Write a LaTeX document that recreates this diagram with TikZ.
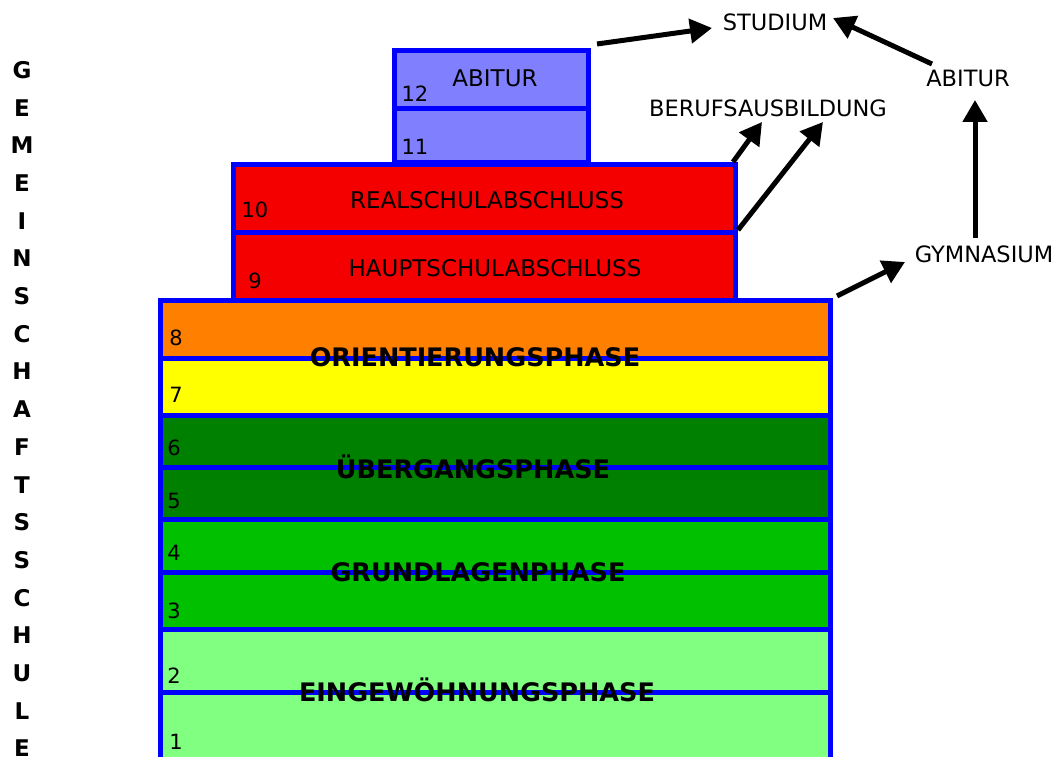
\documentclass[tikz,border=0pt]{standalone}
\usepackage{fontspec}
\setmainfont{DejaVu Sans}
\usetikzlibrary{arrows.meta}
\definecolor{cOrange}{HTML}{FF8000}
\definecolor{cYellow}{HTML}{FFFF00}
\definecolor{cDark}{HTML}{008000}
\definecolor{cMid}{HTML}{00C000}
\definecolor{cLight}{HTML}{80FF80}
\definecolor{cRed}{HTML}{F50000}
\definecolor{cViolet}{HTML}{8080FF}
\definecolor{cBlue}{HTML}{0000FF}
\begin{document}
\begin{tikzpicture}[x=1pt,y=-1pt,
  rowbox/.style={draw=cBlue, line width=5pt, inner sep=0pt, anchor=north west},
  num/.style={font=\fontsize{21}{21}\selectfont, inner sep=0pt},
  blabel/.style={font=\fontsize{23}{23}\selectfont, inner sep=0pt},
  phase/.style={font=\fontsize{25.5}{25.5}\selectfont\bfseries, inner sep=0pt},
  side/.style={font=\fontsize{22.5}{22.5}\selectfont, inner sep=1pt},
  vl/.style={font=\fontsize{23}{23}\selectfont\bfseries, inner sep=0pt},
  arr/.style={-{Triangle[length=22pt,width=24pt]}, line width=5pt, black}]
\clip (0,0) rectangle (1063,757);
\fill[white] (0,0) rectangle (1063,757);
% main block
\node[rowbox, fill=cOrange, minimum width=670pt, minimum height=58pt] (r8) at (158,298) {};
\node[rowbox, fill=cYellow, minimum width=670pt, minimum height=57pt] (r7) at (158,356) {};
\node[rowbox, fill=cDark, minimum width=670pt, minimum height=52pt] (r6) at (158,413) {};
\node[rowbox, fill=cDark, minimum width=670pt, minimum height=52pt] (r5) at (158,465) {};
\node[rowbox, fill=cMid, minimum width=670pt, minimum height=53pt] (r4) at (158,517) {};
\node[rowbox, fill=cMid, minimum width=670pt, minimum height=57pt] (r3) at (158,570) {};
\node[rowbox, fill=cLight, minimum width=670pt, minimum height=63pt] (r2) at (158,627) {};
\node[rowbox, fill=cLight, minimum width=670pt, minimum height=90pt] (r1) at (158,690) {};
% red block
\node[rowbox, fill=cRed, minimum width=502pt, minimum height=68pt] (r9) at (231,230) {};
\node[rowbox, fill=cRed, minimum width=502pt, minimum height=68pt] (r10) at (231,162) {};
% violet block
\node[rowbox, fill=cViolet, minimum width=194pt, minimum height=54pt] (r11) at (392,106) {};
\node[rowbox, fill=cViolet, minimum width=194pt, minimum height=58pt] (r12) at (392,48) {};
% numbers
\node[num] (n12) at (415,94) {12};
\node[num] (n11) at (415,147) {11};
\node[num] (n10) at (255,210) {10};
\node[num] (n9) at (255,281) {9};
\node[num] (n8) at (176,338) {8};
\node[num] (n7) at (176,395) {7};
\node[num] (n6) at (174,448) {6};
\node[num] (n5) at (174,501) {5};
\node[num] (n4) at (174,553) {4};
\node[num] (n3) at (174,611) {3};
\node[num] (n2) at (174,676) {2};
\node[num] (n1) at (176,742) {1};
% block labels
\node[blabel] (tab) at (495,78) {ABITUR};
\node[blabel] (treal) at (487,200) {REALSCHULABSCHLUSS};
\node[blabel] (thaupt) at (495,268) {HAUPTSCHULABSCHLUSS};
% phases
\node[phase] (p1) at (475,357) {ORIENTIERUNGSPHASE};
\node[phase] (p2) at (473,467) {ÜBERGANGSPHASE};
\node[phase] (p3) at (478,572) {GRUNDLAGENPHASE};
\node[phase] (p4) at (477,690) {EINGEWÖHNUNGSPHASE};
% side labels
\node[side] (stud) at (775,22) {STUDIUM};
\node[side] (ber) at (768,108) {BERUFSAUSBILDUNG};
\node[side] (ab2) at (968,78) {ABITUR};
\node[side] (gym) at (984,254) {GYMNASIUM};
% vertical word
\foreach \l [count=\i] in {G,E,M,E,I,N,S,C,H,A,F,T,S,S,C,H,U,L,E}
  \node[vl] (v\i) at (22,{70+37.7*(\i-1)}) {\l};
% arrows
\draw[arr] ([xshift=6pt,yshift=4pt]r12.north east) -- ([xshift=-63pt,yshift=-6pt]stud.center);
\draw[arr] ([xshift=-36pt,yshift=14pt]ab2.center) -- ([xshift=58pt,yshift=4pt]stud.center);
\draw[arr] ([xshift=-5pt]r10.north east) -- ([xshift=-6pt,yshift=-14pt]ber.center);
\draw[arr] (r9.north east) -- ([xshift=55pt,yshift=-14pt]ber.center);
\draw[arr] ([xshift=-9pt,yshift=16pt]gym.center) -- ([xshift=7pt,yshift=-22pt]ab2.center);
\draw[arr] ([xshift=4pt,yshift=2pt]r8.north east) -- ([xshift=-79pt,yshift=-8pt]gym.center);
\end{tikzpicture}
\end{document}
